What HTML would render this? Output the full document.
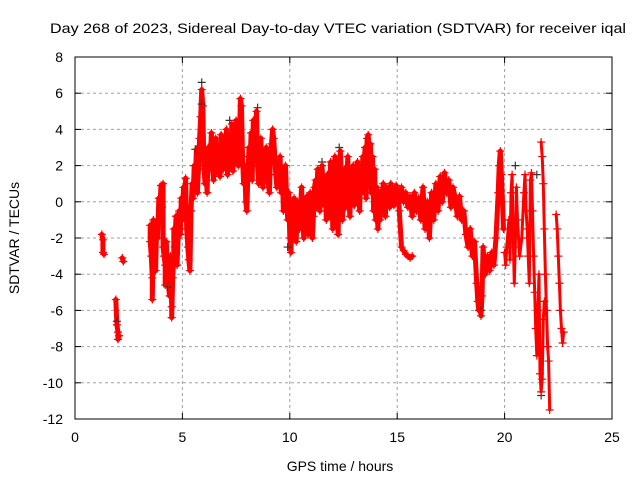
<!DOCTYPE html>
<html><head><meta charset="utf-8">
<style>
html,body{margin:0;padding:0;background:#fff;}
svg{display:block;font-family:"Liberation Sans",sans-serif;}
</style></head>
<body>
<svg id="chart" width="640" height="480" viewBox="0 0 640 480" xmlns="http://www.w3.org/2000/svg">
<rect width="640" height="480" fill="#fff"/>
<text x="338" y="33" font-size="14" text-anchor="middle" textLength="576" lengthAdjust="spacingAndGlyphs">Day 268 of 2023, Sidereal Day-to-day VTEC variation (SDTVAR) for receiver iqal</text>
<g id="grid"></g>
<g id="ticks"></g>
<g id="marks"></g>
<rect x="75" y="57" width="537" height="362" fill="none" stroke="#000" stroke-width="1"/>
<text x="340" y="471" font-size="14" text-anchor="middle">GPS time / hours</text>
<text x="0" y="0" font-size="14" text-anchor="middle" transform="translate(19,238) rotate(-90)">SDTVAR / TECUs</text>
</svg>
<script>
const xTicks=[0,5,10,15,20,25];
const yTicks=[8,6,4,2,0,-2,-4,-6,-8,-10,-12];
const blackPoints=[[5.9,6.6],[5.9,5.4],[8.5,5.2],[4.3,-4.7],[1.95,-6.6],[21.7,-10.7],[20.5,2.0],[5.6,2.9],[11.5,2.2],[12.3,3.0],[7.2,4.5],[9.9,-2.5],[18.9,-6.0],[21.5,1.5]];
const redPoints=[[1.25,-1.8],[1.3,-2.1],[1.3,-2.8],[1.35,-2.9],[1.9,-5.4],[1.95,-6.8],[2.0,-7.2],[2.0,-7.6],[2.05,-7.4],[2.2,-3.1],[2.25,-3.3],
[3.5,-1.3],[3.5,-2.2],[3.55,-3.0],[3.6,-4.2],[3.6,-5.4],[3.65,-1.0],[3.7,-2.6],[3.75,-3.8],[3.8,-1.5],[3.85,-2.0],[3.9,0.2],[3.95,-0.8],[4.0,0.9],[4.05,-0.3],[4.1,1.0],[4.1,-2.5],[4.15,-3.0],[4.2,-3.5],[4.2,-4.6],[4.25,-2.2],[4.3,-3.8],[4.35,-4.5],[4.4,-5.2],[4.45,-3.0],[4.5,-5.8],[4.5,-6.4],[4.55,-4.2],[4.6,-3.0],[4.6,-1.5],[4.65,-2.5],[4.7,-0.8],[4.75,-3.5],[4.8,-2.0],[4.85,-0.5],[4.9,-1.8],[4.95,0.2],[5.0,-1.0],[5.05,0.8],[5.1,-0.3],[5.15,1.3],[5.2,-1.5],[5.25,-2.5],[5.3,-3.2],[5.35,-3.8],[5.4,-0.5],[5.45,1.0],[5.5,0.2],[5.55,2.0],[5.6,1.2],[5.65,2.9],[5.7,0.5],[5.75,1.8],[5.8,3.5],[5.85,4.7],[5.9,6.2],[5.95,5.3],[6.0,2.0],[6.05,1.0],[6.1,2.5],[6.15,0.5],[6.2,3.0],[6.25,1.8],[6.3,2.4],[6.35,3.8],[6.4,2.0],[6.45,1.2],[6.5,2.8],[6.55,3.5],[6.6,1.6],[6.65,2.2],[6.7,3.0],[6.75,1.4],[6.8,3.7],[6.85,2.5],[6.9,1.8],[6.95,3.2],[7.0,2.2],[7.05,4.0],[7.1,1.5],[7.15,2.8],[7.2,3.6],[7.25,2.0],[7.3,4.3],[7.35,1.7],[7.4,3.0],[7.45,2.4],[7.5,4.5],[7.55,3.5],[7.6,2.0],[7.65,3.0],[7.7,5.7],[7.75,5.3],[7.8,2.5],[7.85,1.0],[7.9,2.0],[7.95,0.0],[8.0,-0.5],[8.05,1.5],[8.1,3.0],[8.15,2.2],[8.2,3.8],[8.25,1.2],[8.3,4.5],[8.35,2.8],[8.4,3.2],[8.45,5.0],[8.5,2.0],[8.55,1.0],[8.6,2.5],[8.65,3.5],[8.7,1.8],[8.75,0.8],[8.8,2.2],[8.85,1.5],[8.9,3.0],[8.95,2.0],[9.0,1.0],[9.05,0.5],[9.1,2.5],[9.15,3.2],[9.2,4.0],[9.25,3.5],[9.3,2.5],[9.35,1.5],[9.4,0.8],[9.45,2.0],[9.5,1.2],[9.55,2.5],[9.6,0.5],[9.65,1.8],[9.7,-0.5],[9.75,1.0],[9.8,2.0],[9.85,0.2],[9.9,-1.0],[9.95,0.5],[10.0,-2.0],[10.05,-2.8],[10.1,-1.5],[10.15,-0.5],[10.2,0.2],[10.25,-1.0],[10.3,-2.2],[10.35,0.0],[10.4,-0.8],[10.45,-1.5],[10.5,-0.3],[10.55,0.8],[10.6,-1.0],[10.65,-2.0],[10.7,-0.5],[10.75,-1.2],[10.8,0.3],[10.85,-1.8],[10.9,-0.6],[10.95,0.5],[11.0,-1.2],[11.05,-2.0],[11.1,-0.8],[11.15,0.8],[11.2,1.2],[11.25,-0.3],[11.3,1.8],[11.35,0.5],[11.4,-0.5],[11.45,1.5],[11.5,2.0],[11.55,0.8],[11.6,-0.2],[11.65,1.0],[11.7,-1.0],[11.75,1.5],[11.8,0.3],[11.85,-0.8],[11.9,2.2],[11.95,1.0],[12.0,-1.5],[12.05,0.5],[12.1,2.5],[12.15,1.2],[12.2,-0.5],[12.25,-1.8],[12.3,0.8],[12.35,2.8],[12.4,1.5],[12.45,-1.0],[12.5,0.2],[12.55,1.8],[12.6,-0.3],[12.65,1.0],[12.7,2.5],[12.75,0.0],[12.8,-0.8],[12.85,1.2],[12.9,0.5],[12.95,2.0],[13.0,-0.2],[13.05,1.5],[13.1,0.3],[13.15,2.2],[13.2,0.8],[13.25,-0.5],[13.3,1.8],[13.35,0.5],[13.4,2.5],[13.45,1.0],[13.5,3.0],[13.55,0.2],[13.6,3.5],[13.65,3.7],[13.7,1.5],[13.75,3.2],[13.8,0.5],[13.85,2.5],[13.9,-0.5],[13.95,1.8],[14.0,-1.0],[14.05,0.8],[14.1,-1.5],[14.15,0.2],[14.2,-1.0],[14.25,0.6],[14.3,-0.5],[14.35,1.0],[14.4,0.2],[14.45,-0.8],[14.5,0.8],[14.55,0.0],[14.6,0.5],[14.65,-0.3],[14.7,1.0],[14.75,0.3],[14.8,0.7],[14.85,-0.2],[14.9,0.5],[14.95,0.9],[15.0,0.2],[15.05,0.6],[15.1,-0.5],[15.2,-2.5],[15.3,-2.7],[15.4,-2.9],[15.5,-3.0],[15.6,-3.1],[15.7,-3.0],[15.2,0.8],[15.3,0.0],[15.4,0.5],[15.5,-0.3],[15.6,0.3],[15.7,-0.8],[15.8,0.5],[15.9,-0.5],[16.0,0.2],[16.1,-1.0],[16.2,0.8],[16.3,-1.5],[16.4,0.0],[16.5,-2.0],[16.6,0.5],[16.7,-1.0],[16.8,1.0],[16.9,-0.5],[17.0,1.4],[17.1,0.0],[17.2,1.6],[17.3,0.5],[17.4,1.2],[17.5,-0.3],[17.6,0.8],[17.7,0.2],[17.8,-0.8],[17.9,0.3],[18.0,-1.0],[18.1,-0.5],[18.2,-1.8],[18.3,-2.5],[18.4,-1.5],[18.5,-3.0],[18.6,-2.2],[18.7,-4.5],[18.75,-5.5],[18.8,-6.0],[18.85,-4.8],[18.9,-6.3],[18.95,-5.2],[19.0,-2.5],[19.05,-3.5],[19.1,-4.0],[19.2,-3.0],[19.3,-3.8],[19.4,-2.8],[19.5,-3.5],[19.6,-2.0],[19.7,0.5],[19.75,2.0],[19.8,2.8],[19.85,1.5],[19.9,0.0],[19.95,-1.5],[20.0,-2.8],[20.05,-3.5],[20.1,-2.5],[20.2,-1.0],[20.25,-3.2],[20.3,0.5],[20.35,1.5],[20.4,-2.0],[20.45,-4.5],[20.5,-2.5],[20.55,0.8],[20.6,-1.0],[20.7,-3.0],[20.8,-2.0],[20.9,0.5],[20.95,1.5],[21.0,-0.5],[21.05,-1.5],[21.1,-3.0],[21.15,-4.5],[21.2,1.2],[21.25,1.6],[21.3,-0.5],[21.35,-3.0],[21.4,-5.0],[21.45,-7.0],[21.5,-8.5],[21.55,-6.0],[21.6,-4.0],[21.65,-9.5],[21.7,-10.5],[21.75,-9.8],[21.8,-6.5],[21.85,-5.5],[21.7,3.3],[21.75,2.5],[21.8,1.0],[21.85,-1.5],[21.9,-4.0],[21.95,-6.0],[22.0,-8.0],[22.05,-8.8],[22.1,-11.5],[22.4,-0.7],[22.45,-1.5],[22.5,-3.0],[22.55,-4.5],[22.6,-6.0],[22.65,-7.0],[22.7,-7.8],[22.75,-7.2]];

const NS='http://www.w3.org/2000/svg';
const L=75,R=612,T=57,B=419,XMIN=0,XMAX=25,YMIN=-12,YMAX=8;
function xs(v){return L+(v-XMIN)/(XMAX-XMIN)*(R-L);}
function ys(v){return B-(v-YMIN)/(YMAX-YMIN)*(B-T);}
const grid=document.getElementById('grid'),ticks=document.getElementById('ticks'),marks=document.getElementById('marks');
function mk(tag,attrs,parent){const e=document.createElementNS(NS,tag);for(const k in attrs)e.setAttribute(k,attrs[k]);parent.appendChild(e);return e;}
xTicks.forEach(v=>{
  const x=xs(v);
  if(v>XMIN&&v<XMAX){const g=mk('line',{x1:x,y1:T,x2:x,y2:B,stroke:'#a0a0a0','stroke-dasharray':'3,3'},grid);
  
  }
  mk('line',{x1:x,y1:B,x2:x,y2:B-6,stroke:'#000'},ticks);
  mk('line',{x1:x,y1:T,x2:x,y2:T+6,stroke:'#000'},ticks);
  const t=mk('text',{x:x,y:B+23,'font-size':14,'text-anchor':'middle'},ticks);
  
  
  t.textContent=v;
});
yTicks.forEach(v=>{
  const y=ys(v);
  if(v>YMIN&&v<YMAX){const g=mk('line',{x1:L,y1:y,x2:R,y2:y,stroke:'#a0a0a0','stroke-dasharray':'3,3'},grid);
  
  }
  mk('line',{x1:L,y1:y,x2:L+6,y2:y,stroke:'#000'},ticks);
  mk('line',{x1:R,y1:y,x2:R-6,y2:y,stroke:'#000'},ticks);
  const t=mk('text',{x:L-12,y:y+5,'font-size':14,'text-anchor':'end'},ticks);
  
  
  t.textContent=v;
});
function plus(p,color,name){
  const x=xs(p[0]),y=ys(p[1]);
  const e=mk('path',{d:`M${x-4},${y}h8M${x},${y-4}v8`,stroke:color,'stroke-width':1.2,fill:'none'},marks);
  
  
}
// dense cloud: connect consecutive samples (thick) to mimic the overlapping markers
let dA='',dB='';
for(let i=0;i<redPoints.length;i++){
  const p=redPoints[i],q=redPoints[i-1];
  const cmd=(q&&p[0]>=q[0]&&p[0]-q[0]<0.11)?'L':'M';
  const seg=cmd+xs(p[0]).toFixed(1)+','+ys(p[1]).toFixed(1);
  if(p[0]<20){dA+=seg;}else{dB+=(dB===''?'M'+seg.slice(1):seg);}
}
const cloud=mk('path',{d:dA,stroke:'#ff0000','stroke-width':5,fill:'none','stroke-linejoin':'round','stroke-linecap':'round'},marks);


const cloud2=mk('path',{d:dB,stroke:'#ff0000','stroke-width':3,fill:'none','stroke-linejoin':'round','stroke-linecap':'round'},marks);


blackPoints.forEach(p=>plus(p,'#333','black-point'));
redPoints.forEach(p=>plus(p,'#ff0000','red-point'));
</script>
</body></html>
